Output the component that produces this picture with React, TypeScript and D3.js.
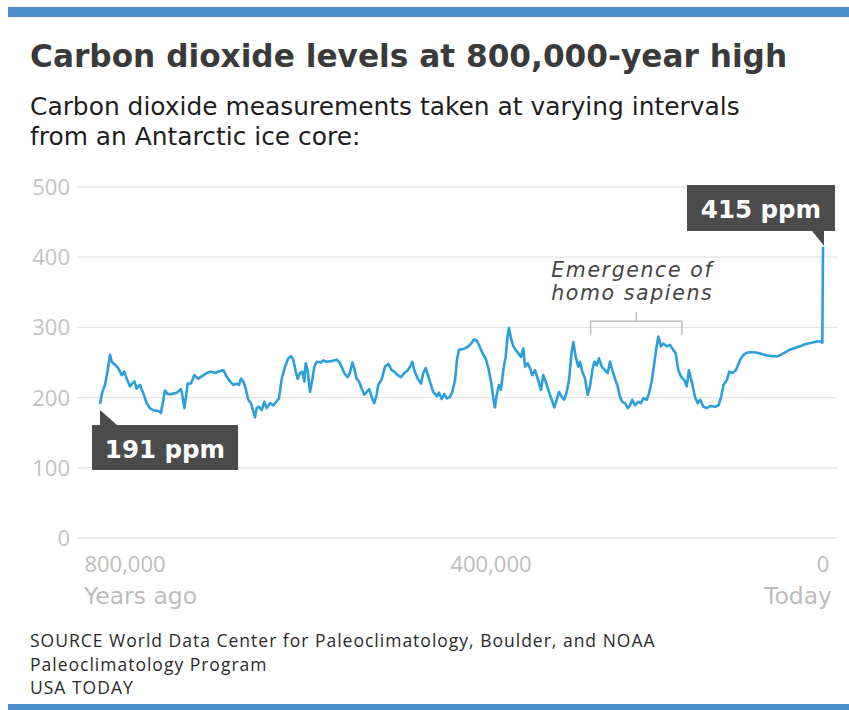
import React from "react";
import * as d3 from "d3";

// CO2 (ppm) vs thousands of years ago
const kyrAgo: number[] = [
  827.3, 824.8, 821.9, 818.9, 816.4, 814.5, 812.8, 810.2, 807.3, 803.6, 800.8, 798.1, 794.5, 792.1, 789.8, 787.2, 783.6, 780.0, 776.3, 772.7,
  769.1, 763.6, 760.7, 758.1, 756.3, 753.3, 749.0, 743.5, 738.8, 737.4, 735.2, 733.8, 731.5, 727.9, 724.3, 719.9, 715.5, 710.7, 706.0, 701.6,
  696.2, 692.6, 688.9, 685.2, 681.6, 677.9, 675.4, 673.2, 670.7, 668.1, 665.3, 662.3, 659.8, 657.9, 656.1, 653.6, 650.6, 647.8, 645.2, 641.5,
  637.9, 635.3, 631.7, 628.7, 625.1, 621.5, 618.6, 616.1, 613.4, 611.3, 608.7, 606.2, 604.0, 602.5, 600.4, 597.8, 595.3, 593.1, 590.5, 585.8,
  583.3, 579.6, 574.1, 568.6, 565.0, 560.4, 556.7, 554.2, 551.6, 549.5, 546.9, 544.3, 541.4, 538.5, 535.9, 533.1, 530.4, 527.6, 525.0, 523.2,
  519.5, 515.9, 512.2, 508.5, 505.7, 502.0, 498.4, 494.7, 491.0, 488.5, 486.0, 483.8, 480.1, 476.5, 474.0, 471.4, 468.5, 465.6, 463.1, 459.3,
  456.8, 453.9, 451.0, 448.4, 444.8, 442.3, 439.3, 437.2, 435.0, 432.0, 428.4, 424.8, 421.1, 418.4, 415.6, 413.1, 410.9, 408.4, 405.8, 402.9,
  400.0, 397.2, 395.2, 393.1, 390.4, 388.0, 385.2, 382.3, 379.9, 378.3, 375.9, 373.1, 370.2, 367.1, 363.9, 361.1, 359.0, 355.8, 353.0, 350.2,
  347.0, 343.7, 339.8, 337.0, 334.1, 331.0, 326.9, 323.7, 320.8, 318.1, 314.8, 311.7, 308.8, 306.0, 302.8, 300.8, 297.9, 294.8, 292.8, 290.0,
  286.7, 283.5, 280.7, 277.9, 275.5, 272.6, 269.9, 266.6, 262.7, 259.4, 256.6, 253.9, 250.6, 247.4, 244.6, 241.9, 238.6, 235.3, 232.5, 229.8,
  226.5, 222.5, 219.3, 216.5, 212.4, 209.6, 206.4, 203.3, 200.8, 198.4, 195.2, 192.4, 188.3, 184.3, 180.4, 177.5, 174.3, 171.1, 167.1, 164.2,
  161.5, 158.2, 154.2, 151.0, 148.0, 144.0, 139.9, 135.9, 129.9, 125.9, 122.7, 119.9, 115.8, 113.0, 109.0, 104.9, 99.8, 95.8, 91.7, 85.7,
  79.7, 73.9, 67.8, 59.8, 53.8, 47.8, 41.8, 35.8, 27.7, 21.7, 13.7, 7.6, 2.4, 0.8, 0,
];
const co2: number[] = [
  191, 208, 218, 239, 261, 251, 249, 246, 242, 232, 237, 227, 216, 220, 223, 213, 218, 206, 192, 185,
  182, 181, 178, 197, 210, 205, 205, 207, 212, 204, 185, 197, 220, 220, 232, 227, 231, 235, 237, 235,
  238, 239, 230, 223, 218, 220, 218, 227, 223, 213, 197, 192, 180, 172, 185, 187, 182, 194, 185, 192,
  189, 193, 199, 227, 244, 256, 259, 254, 237, 227, 235, 237, 223, 249, 239, 208, 225, 244, 251, 250,
  253, 251, 252, 254, 249, 235, 229, 235, 250, 242, 227, 223, 213, 204, 208, 212, 201, 192, 204, 218,
  226, 244, 248, 239, 237, 232, 229, 235, 239, 244, 251, 239, 227, 220, 235, 242, 230, 218, 208, 202,
  207, 198, 205, 199, 201, 208, 225, 254, 268, 269, 270, 273, 278, 283, 281, 275, 268, 261, 256, 242,
  223, 199, 186, 204, 218, 211, 239, 258, 289, 299, 284, 273, 268, 263, 258, 270, 244, 249, 242, 232,
  239, 227, 211, 232, 223, 211, 197, 186, 197, 208, 201, 197, 208, 225, 265, 279, 258, 244, 251, 237,
  227, 204, 216, 239, 251, 246, 256, 244, 239, 235, 251, 239, 227, 216, 201, 194, 192, 185, 189, 197,
  189, 194, 192, 199, 197, 206, 223, 249, 270, 287, 273, 277, 273, 275, 268, 263, 239, 230, 225, 216,
  239, 223, 201, 192, 197, 187, 185, 188, 187, 189, 201, 218, 225, 237, 235, 239, 254, 261, 264, 265,
  264, 262, 260, 259, 259, 263, 267, 270, 273, 276, 278, 280, 280, 278, 415,
];

const yTicks: number[] = [0, 100, 200, 300, 400, 500];
const xTicks: number[] = [800, 400, 0];
const xTickLabels: string[] = ["800,000", "400,000", "0"];

const title = "Carbon dioxide levels at 800,000-year high";
const subtitle: string[] = ["Carbon dioxide measurements taken at varying intervals", "from an Antarctic ice core:"];
const sourceLines: string[] = [
  "SOURCE World Data Center for Paleoclimatology, Boulder, and NOAA",
  "Paleoclimatology Program",
  "USA TODAY",
];
const emergence = { from: 280, to: 170, label: ["Emergence of", "homo sapiens"] };

const W = 849;
const H = 710;
const BLUE = "#4a8fcc";
const LINE = "#2b9fd9";
const BOX = "#4b4b4b";
const SANS = "'Open Sans', sans-serif";
const DEJA = "'DejaVu Sans', sans-serif";

export default function App() {
  const x = d3.scaleLinear().domain([800, 400, 0]).range([125, 491, 823]);
  const y = d3.scaleLinear().domain([0, 500]).range([538, 187]);
  const pts = kyrAgo.map((k, i) => [k, co2[i]] as [number, number]);
  const line = d3
    .line<[number, number]>()
    .x((d) => x(d[0]))
    .y((d) => y(d[1]));

  const first = pts[0];
  const last = pts[pts.length - 1];
  const fx = x(first[0]);
  const fy = y(first[1]);
  const lx = x(last[0]);
  const ly = y(last[1]);

  const bx1 = x(emergence.from);
  const bx2 = x(emergence.to);
  const bmid = (bx1 + bx2) / 2;
  const by = y(309);

  return (
    <svg
      width={W}
      height={H}
      viewBox={`0 0 ${W} ${H}`}
      style={{ position: "absolute", left: 0, top: 0, background: "#fff" }}
    >
      <rect x={8} y={7} width={W - 8} height={10} fill={BLUE} />
      <rect x={8} y={704} width={W - 8} height={6} fill={BLUE} />

      <text x={30} y={67} fontFamily={DEJA} fontWeight="bold" fontSize={31.2} fill="#3a3a3a">
        {title}
      </text>
      {subtitle.map((s, i) => (
        <text key={i} x={30} y={115 + i * 30} fontFamily={DEJA} fontSize={24.9} fill="#1e1e1e">
          {s}
        </text>
      ))}

      {yTicks.map((t) => (
        <g key={t}>
          <line x1={77} x2={838} y1={y(t)} y2={y(t)} stroke="#e4e4e4" strokeWidth={1.3} />
          <text x={70} y={y(t) + 8} textAnchor="end" fontFamily={SANS} fontSize={22} fill="#c2c2c2">
            {t}
          </text>
        </g>
      ))}

      {xTicks.map((t, i) => (
        <text key={t} x={x(t)} y={572} textAnchor="middle" fontFamily={SANS} fontSize={22} fill="#bdbdbd">
          {xTickLabels[i]}
        </text>
      ))}
      <text x={84} y={604} fontFamily={DEJA} fontSize={23.5} fill="#bdbdbd">
        Years ago
      </text>
      <text x={832} y={604} textAnchor="end" fontFamily={DEJA} fontSize={23.5} fill="#bdbdbd">
        Today
      </text>

      {/* bracket */}
      <path
        d={`M${bx1},${by + 14} V${by} H${bx2} V${by + 14} M${bmid},${by} V${by - 9}`}
        fill="none"
        stroke="#b5b5b5"
        strokeWidth={1.3}
      />
      {emergence.label.map((s, i) => (
        <text
          key={i}
          x={bmid - 4}
          y={277 + i * 23}
          textAnchor="middle"
          fontFamily={DEJA}
          fontStyle="italic"
          fontSize={20.5}
          letterSpacing={1.6}
          fill="#454545"
        >
          {s}
        </text>
      ))}

      <path d={line(pts) || ""} fill="none" stroke={LINE} strokeWidth={2.6} strokeLinejoin="round" />

      {/* 191 ppm callout */}
      <path d={`M${fx},${fy + 6} V${425} H${fx + 17} Z`} fill={BOX} />
      <rect x={92} y={425} width={146} height={45} fill={BOX} />
      <text x={165} y={458} textAnchor="middle" fontFamily={DEJA} fontWeight="bold" fontSize={24.5} fill="#fff">
        {`${first[1]} ppm`}
      </text>

      {/* 415 ppm callout */}
      <path d={`M${lx + 1},${ly - 1} V${231} H${lx - 11} Z`} fill={BOX} />
      <rect x={687} y={185} width={148} height={46} fill={BOX} />
      <text x={761} y={218} textAnchor="middle" fontFamily={DEJA} fontWeight="bold" fontSize={24.5} fill="#fff">
        {`${last[1]} ppm`}
      </text>

      {sourceLines.map((s, i) => (
        <text key={i} x={30} y={647 + i * 23.5} fontFamily={SANS} fontSize={17.5} letterSpacing={1} fill="#2a2a2a">
          {s}
        </text>
      ))}
    </svg>
  );
}
